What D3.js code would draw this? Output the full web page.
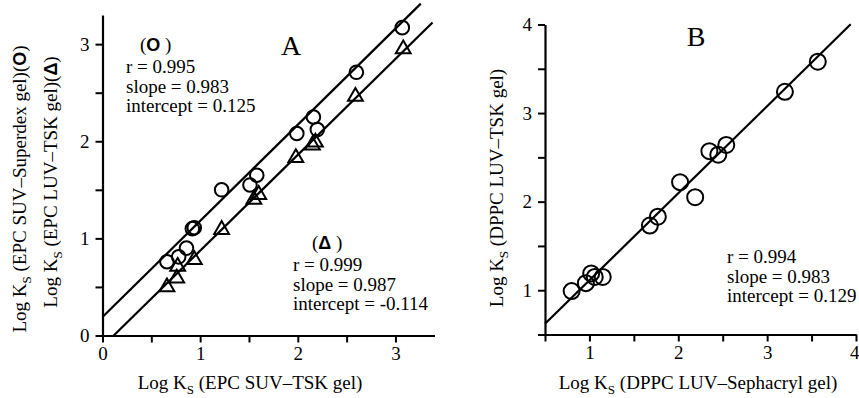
<!DOCTYPE html>
<html><head><meta charset="utf-8">
<script src="https://cdn.jsdelivr.net/npm/d3@7"></script>
<style>
html,body{margin:0;padding:0;background:#fff;}
svg{display:block;}
text{font-family:"Liberation Serif","Times New Roman",serif;fill:#000;}
</style></head>
<body>
<svg id="chart" width="859" height="398"></svg>
<script>
// ---------- DATA ----------
// Panel A
const ticksA = [0, 0.5, 1, 1.5, 2, 2.5, 3];
const circlesA = [[0.66,0.76],[0.78,0.81],[0.86,0.90],[0.92,1.10],[0.94,1.11],[1.22,1.50],
                  [1.51,1.55],[1.58,1.65],[1.99,2.08],[2.16,2.25],[2.20,2.12],[2.60,2.71],[3.07,3.17]];
const trianglesA = [[0.66,0.50],[0.76,0.59],[0.77,0.71],[0.94,0.78],[1.22,1.09],[1.55,1.40],
                    [1.60,1.45],[1.98,1.83],[2.15,1.96],[2.18,1.99],[2.59,2.46],[3.08,2.95]];
// drawn regression lines: [intercept, slope, xStart, xEnd]
const fitCircleA = [0.19, 0.99, 0, 3.26];
const fitTriangleA = [-0.114, 0.987, 0.115, 3.38];
const statsCircleA = ["r = 0.995", "slope = 0.983", "intercept = 0.125"];
const statsTriangleA = ["r = 0.999", "slope = 0.987", "intercept = -0.114"];

// Panel B
const ticksB = [0.5, 1, 1.5, 2, 2.5, 3, 3.5, 4];
const circlesB = [[0.80,0.99],[0.96,1.08],[1.02,1.19],[1.06,1.15],[1.15,1.15],[1.68,1.73],
                  [1.77,1.83],[2.02,2.22],[2.19,2.05],[2.35,2.57],[2.45,2.53],[2.54,2.64],
                  [3.20,3.24],[3.57,3.58]];
const fitB = [0.129, 0.983, 0.5, 3.94];
const statsB = ["r = 0.994", "slope = 0.983", "intercept = 0.129"];

// ---------- DRAW ----------
const svg = d3.select("#chart");
const FS = 19;
const fmtInt = d => Number.isInteger(d) ? d : "";

function axes(g, x, y, ticksX, ticksY) {
  const ax = g.append("g").attr("transform", `translate(0,${y.range()[0]})`)
    .call(d3.axisBottom(x).tickValues(ticksX).tickFormat(fmtInt).tickSize(7).tickSizeOuter(0).tickPadding(4));
  const ay = g.append("g").attr("transform", `translate(${x.range()[0]},0)`)
    .call(d3.axisLeft(y).tickValues(ticksY).tickFormat(fmtInt).tickSize(7).tickSizeOuter(0).tickPadding(5));
  [ax, ay].forEach(a => {
    a.select(".domain").attr("stroke", "#000").attr("stroke-width", 2.2);
    a.selectAll(".tick line").attr("stroke", "#000").attr("stroke-width", 2);
    a.selectAll(".tick text").attr("font-family", "Liberation Serif").attr("font-size", FS).attr("fill", "#000");
  });
  ay.selectAll(".tick text").attr("dx", "-1");
  // keep the last x tick label inside the page
  ax.selectAll(".tick text").filter(d => x(d) > 850).attr("text-anchor", "end").attr("dx", 3);
}

function fitLine(g, x, y, f) {
  const [b, m, x0, x1] = f;
  g.append("line")
    .attr("x1", x(x0)).attr("y1", y(b + m * x0))
    .attr("x2", x(x1)).attr("y2", y(b + m * x1))
    .attr("stroke", "#000").attr("stroke-width", 2.2);
}

function statBlock(g, lines, x0, y0, header) {
  const t = g.append("g");
  if (header) {
    const h = t.append("text").attr("x", header.x).attr("y", header.y).attr("font-size", FS);
    h.append("tspan").text("(");
    h.append("tspan").attr("font-family", "Liberation Sans").attr("font-weight", "bold").attr("font-size", FS - 1).text(header.sym);
    h.append("tspan").text(" )");
  }
  lines.forEach((s, i) => t.append("text").attr("x", x0).attr("y", y0 + i * 19.5).attr("font-size", FS).text(s));
}

function logKLabel(g, rest, sym, tx, ty, rotate) {
  const t = g.append("text")
    .attr("font-size", FS).attr("text-anchor", "middle")
    .attr("transform", rotate ? `translate(${tx},${ty}) rotate(-90)` : `translate(${tx},${ty})`);
  t.append("tspan").text("Log K");
  t.append("tspan").attr("font-size", 13).attr("dy", 5).text("S");
  t.append("tspan").attr("dy", -5).text(" " + rest);
  if (sym) {
    t.append("tspan").text("(");
    t.append("tspan").attr("font-family", "Liberation Sans").attr("font-weight", "bold").attr("font-size", FS - 1).text(sym);
    t.append("tspan").text(")");
  }
}

// Panel A
{
  const g = svg.append("g");
  const x = d3.scaleLinear().domain([0, 3.4]).range([102.5, 434.5]);
  const y = d3.scaleLinear().domain([0, 3.3]).range([335.5, 15]);
  axes(g, x, y, ticksA, ticksA);
  fitLine(g, x, y, fitCircleA);
  fitLine(g, x, y, fitTriangleA);
  g.selectAll("circle.c").data(circlesA).join("circle")
    .attr("cx", d => x(d[0])).attr("cy", d => y(d[1])).attr("r", 6.8)
    .attr("fill", "none").attr("stroke", "#000").attr("stroke-width", 2);
  g.selectAll("path.t").data(trianglesA).join("path")
    .attr("transform", d => `translate(${x(d[0])},${y(d[1])})`)
    .attr("d", d3.symbol(d3.symbolTriangle, 95))
    .attr("fill", "none").attr("stroke", "#000").attr("stroke-width", 2);
  g.append("text").attr("x", 291).attr("y", 55).attr("font-size", 28).attr("text-anchor", "middle").text("A");
  statBlock(g, statsCircleA, 126, 73, {x: 140, y: 51, sym: "O"});
  statBlock(g, statsTriangleA, 293, 271, {x: 312, y: 249, sym: "Δ"});
  logKLabel(g, "(EPC SUV–Superdex gel)", "O", 26, 189, true);
  logKLabel(g, "(EPC LUV–TSK gel)", "Δ", 57, 182, true);
  logKLabel(g, "(EPC SUV–TSK gel)", null, 250, 389, false);
}

// Panel B
{
  const g = svg.append("g");
  const x = d3.scaleLinear().domain([0.5, 4]).range([545, 856]);
  const y = d3.scaleLinear().domain([0.5, 4]).range([334.5, 24.5]);
  axes(g, x, y, ticksB, ticksB);
  fitLine(g, x, y, fitB);
  g.selectAll("circle.c").data(circlesB).join("circle")
    .attr("cx", d => x(d[0])).attr("cy", d => y(d[1])).attr("r", 8)
    .attr("fill", "none").attr("stroke", "#000").attr("stroke-width", 2);
  g.append("text").attr("x", 696).attr("y", 46).attr("font-size", 28).attr("text-anchor", "middle").text("B");
  statBlock(g, statsB, 727, 263, null);
  logKLabel(g, "(DPPC LUV–TSK gel)", null, 503, 188, true);
  logKLabel(g, "(DPPC LUV–Sephacryl gel)", null, 698, 389, false);
}
</script>
</body></html>
